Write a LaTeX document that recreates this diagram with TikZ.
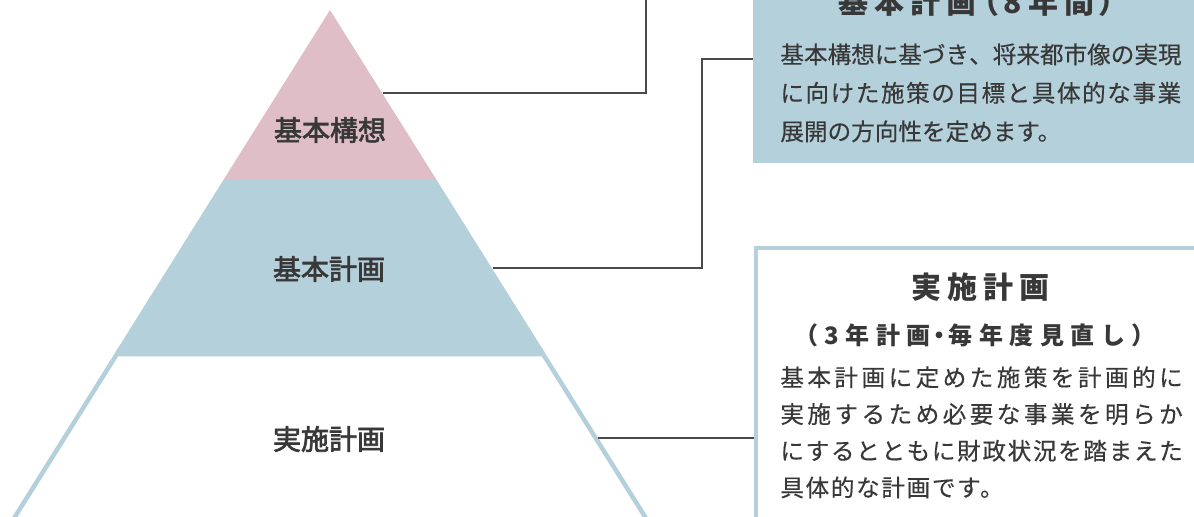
\documentclass[tikz,border=0pt]{standalone}
\usepackage{fontspec}
\setmainfont{Noto Sans CJK JP}[FakeBold=0.3]
\newfontfamily\headfont[LetterSpace=20, RawFeature=+palt]{Noto Sans CJK JP}
\newfontfamily\subfont[LetterSpace=27]{Noto Sans CJK JP}
\newfontfamily\trackfont[LetterSpace=7, FakeBold=0.3]{Noto Sans CJK JP}
\newfontfamily\tierfont[FakeBold=2.5]{Noto Sans CJK JP}
\usetikzlibrary{positioning}
\definecolor{tierpink}{HTML}{DFBEC8}
\definecolor{tierblue}{HTML}{B4D0DB}
\definecolor{inkgray}{HTML}{383838}
\definecolor{linegray}{HTML}{4A4A4A}
% one justified line: characters spread over a fixed width
\ExplSyntaxOn
\NewDocumentCommand \spreadline { m m }
  { \hbox_to_wd:nn {#1} { \tl_map_inline:nn {#2} { ##1 \hfil } \unskip } }
\ExplSyntaxOff
\newcommand\narrowdot{{\addfontfeatures{RawFeature=+palt}\hspace{1.5pt}・\hspace{1.5pt}}}
\tikzset{
  tierlabel/.style={font=\tierfont\fontsize{14}{16}\selectfont, text=inkgray, inner sep=0pt},
  leader/.style={draw=linegray, line width=0.75pt},
  bodytext/.style={text=inkgray, inner sep=0pt, align=left, anchor=north west},
  headtext/.style={text=inkgray, inner sep=0pt, font=\headfont\bfseries\fontsize{15}{18}\selectfont},
  subhead/.style={text=inkgray, inner sep=0pt, font=\subfont\bfseries\fontsize{12}{14}\selectfont},
}
\begin{document}
\begin{tikzpicture}[x=0.5pt, y=-0.5pt]
    \useasboundingbox (0,0) rectangle (1194,517);
    \clip (0,0) rectangle (1194,517);
    % pyramid
    \coordinate (apex) at (330,10);
    \coordinate (baseL) at (-39.9,600);
    \coordinate (baseR) at (699.9,600);
    \begin{scope}
        \clip (apex) -- (baseL) -- (baseR) -- cycle;
        \draw[tierblue, line width=4.5pt] (baseL) -- (115.6,352) -- (544.4,352) -- (baseR);
    \end{scope}
    \fill[tierblue] (224,179) -- (436,179) -- (544.4,352) -- (115.6,352) -- cycle;
    \fill[tierpink] (apex) -- (224,179) -- (436,179) -- cycle;
    \node[tierlabel] (kousou) at (330,130) {基本構想};
    \node[tierlabel] (kihon) at (329,269) {基本計画};
    \node[tierlabel] (jisshi) at (329,439) {実施計画};
    % boxes
    \node[fill=tierblue, inner sep=0pt, anchor=north west, minimum width=230pt, minimum height=91.5pt] (plan) at (753,-20) {};
    \node[draw=tierblue, fill=white, line width=2pt, inner sep=0pt, anchor=north west, minimum width=250pt, minimum height=150pt] (exec) at (754,246) {};
    \node[headtext] (planhead) at (977,2) {基本計画（8年間）};
    \node[bodytext, font=\fontsize{11.8}{19.25}\selectfont] (plantext) at (780,43)
        {\spreadline{200.4pt}{基本構想に基づき、将来都市像の実現}\\
         \spreadline{200.4pt}{に向けた施策の目標と具体的な事業}\\
         展開の方向性を定めます。};
    \node[headtext] (exechead) at (980,287) {実施計画};
    \node[subhead] (execsub) at (975,335) {（3年計画\narrowdot 毎年度見直し）};
    \node[bodytext, font=\trackfont\fontsize{11.8}{18.35}\selectfont] (exectext) at (780,366)
        {\spreadline{201.2pt}{基本計画に定めた施策を計画的に}\\
         \spreadline{201.2pt}{実施するため必要な事業を明らか}\\
         \spreadline{201.2pt}{にするとともに財政状況を踏まえた}\\
         具体的な計画です。};
    % leaders
    \coordinate (k1) at (383,93);
    \coordinate (k1top) at (646,-5);
    \coordinate (k2) at (493,268);
    \coordinate (k2turn) at (702,59);
    \coordinate (k3) at (598,438);
    \draw[leader] (k1) -| (k1top);
    \draw[leader] (k2) -| (k2turn) -- (k2turn -| plan.west);
    \draw[leader] (k3) -- (k3 -| exec.west);
\end{tikzpicture}
\end{document}
